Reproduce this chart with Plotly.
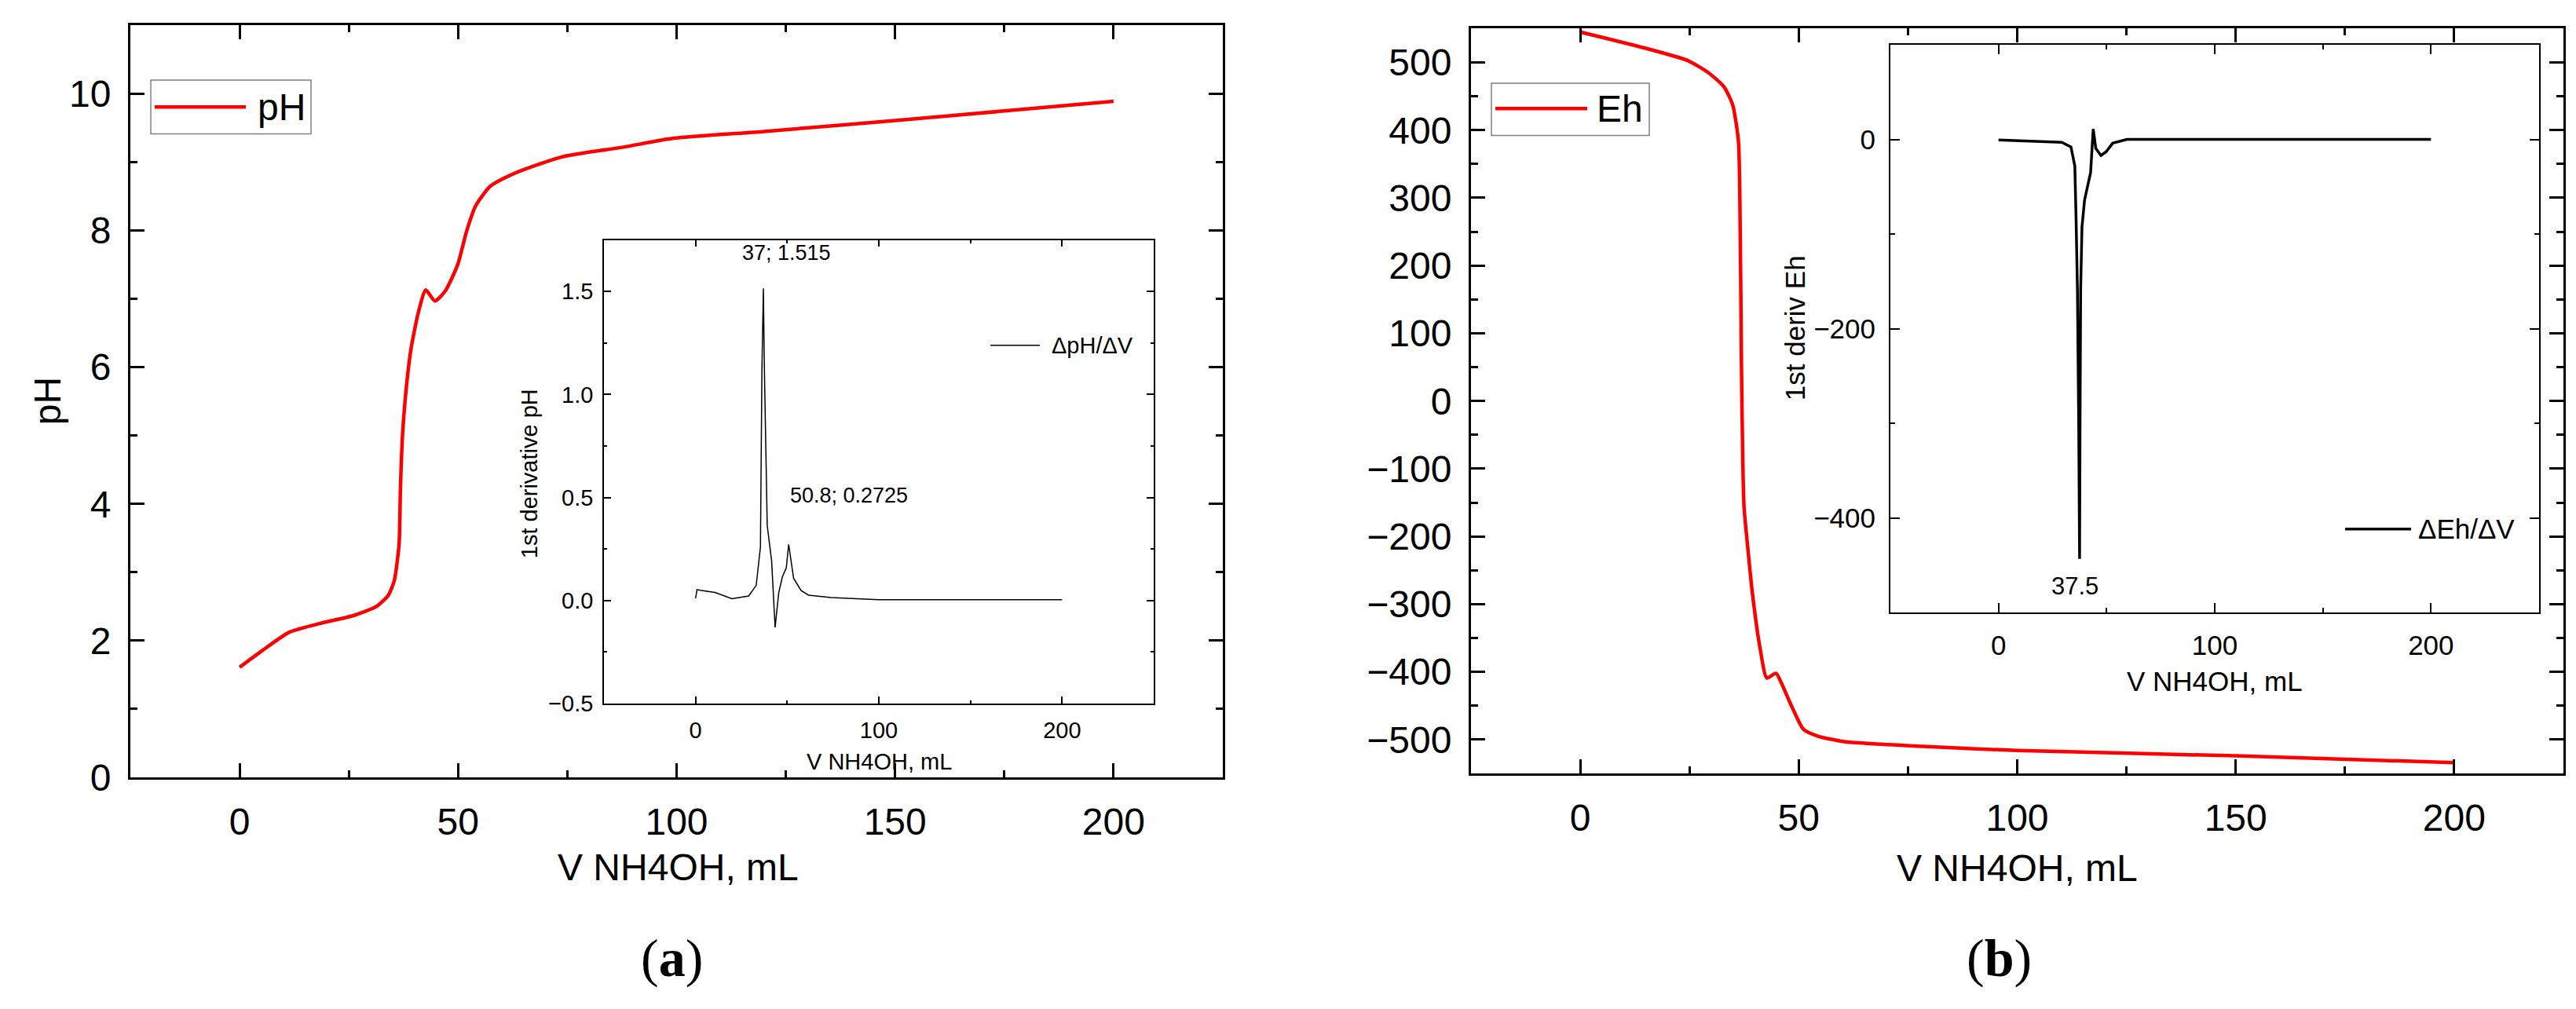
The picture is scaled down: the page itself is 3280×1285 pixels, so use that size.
import plotly.graph_objects as go

# (a) pH titration curve
ph_volume = [0, 5.1, 11.3, 18.9, 25.7, 31.3, 34.0, 35.4, 36.5, 36.8, 37.3, 38.1, 39.2, 40.9,
             42.6, 44.7, 47.1, 49.9, 51.9, 54.0, 57.4, 63.0, 73.9, 87.8, 99.3, 120, 150, 175, 200]
ph_values = [1.61, 1.85, 2.12, 2.26, 2.36, 2.50, 2.66, 2.88, 3.42, 4.22, 5.03, 5.67, 6.26, 6.80,
             7.13, 6.97, 7.12, 7.50, 7.98, 8.36, 8.65, 8.84, 9.08, 9.22, 9.35, 9.45, 9.61, 9.75, 9.89]

# inset of (a): first derivative of pH
dph_volume = [0, 0.8, 2.5, 10.6, 19.8, 29.0, 33.1, 35.4, 36.2, 37.0, 37.5, 39.1, 41.5, 43.4,
              45.4, 47.4, 49.5, 50.8, 53.5, 57.6, 61.7, 74.0, 100, 200]
dph_values = [0.01, 0.053, 0.05, 0.039, 0.009, 0.022, 0.074, 0.26, 1.115, 1.515, 1.15, 0.364,
              0.193, -0.13, 0.039, 0.116, 0.158, 0.2725, 0.108, 0.048, 0.026, 0.014, 0.004, 0.004]

# (b) Eh titration curve
eh_volume = [0, 15.5, 24.5, 29.3, 32.9, 34.9, 36.2, 36.6, 36.9, 37.2, 37.5, 38.3, 39.4, 41.2,
             42.7, 44.8, 46.0, 48.4, 51.1, 54.4, 60.4, 78.4, 100, 150, 200]
eh_values = [545, 520, 503, 485, 464, 437, 384, 259, 50, -89, -158, -214, -284, -367,
             -409, -402, -416, -451, -485, -495, -503, -510, -516, -524, -534]

# inset of (b): first derivative of Eh
deh_volume = [0, 29.3, 33.5, 35.3, 35.9, 36.5, 37.1, 37.5, 37.7, 38.0, 38.6, 39.8, 42.6, 43.8,
              45.0, 47.4, 49.8, 52.8, 59.4, 100, 200]
deh_values = [-0.6, -3, -8, -28, -86, -158, -303, -443, -303, -158, -93, -64, -35, 11,
              -9.6, -17, -13, -4, 0, 0, 0]

SANS = "Liberation Sans, Arial, sans-serif"
SERIF = "Liberation Serif, Times New Roman, serif"
W, H = 3280, 1285


def px(p):
    return p / W


def py(p):
    return 1 - p / H


def axis(domain, rng, dtick, minor_dtick, anchor, size, lw, tlen, standoff, fmt=None):
    return dict(
        domain=domain, range=rng, dtick=dtick, tick0=0, anchor=anchor,
        showgrid=False, zeroline=False, showline=True, linecolor="black", linewidth=lw,
        mirror="allticks", ticks="inside", ticklen=tlen, tickwidth=lw, tickcolor="black",
        tickfont=dict(family=SANS, size=size, color="black"), ticklabelstandoff=standoff,
        tickformat=fmt,
        minor=dict(dtick=minor_dtick, tick0=0, ticks="inside", ticklen=tlen / 2,
                   tickwidth=lw, tickcolor="black", showgrid=False),
        fixedrange=True,
    )


fig = go.Figure()
fig.add_trace(go.Scatter(x=ph_volume, y=ph_values, mode="lines", name="pH",
                         line=dict(color="#ff0000", width=4.5, shape="spline", smoothing=0.6),
                         xaxis="x", yaxis="y", showlegend=False))
fig.add_trace(go.Scatter(x=eh_volume, y=eh_values, mode="lines", name="Eh",
                         line=dict(color="#ff0000", width=4.5, shape="spline", smoothing=0.6),
                         xaxis="x2", yaxis="y2", showlegend=False))
fig.add_trace(go.Scatter(x=dph_volume, y=dph_values, mode="lines", name="ΔpH/ΔV",
                         line=dict(color="black", width=1.5),
                         xaxis="x3", yaxis="y3", showlegend=False))
fig.add_trace(go.Scatter(x=deh_volume, y=deh_values, mode="lines", name="ΔEh/ΔV",
                         line=dict(color="black", width=3.5),
                         xaxis="x4", yaxis="y4", showlegend=False))

fig.update_layout(
    width=W, height=H, margin=dict(l=0, r=0, t=0, b=0),
    paper_bgcolor="white", plot_bgcolor="white",
    font=dict(family=SANS, color="black"),
    xaxis=axis([px(158), px(1549)], [-25, 225], 50, 25, "y", 48, 3, 18, 12),
    yaxis=axis([py(1003), py(25)], [0, 11], 2, 1, "x", 48, 3, 18, 12),
    xaxis2=axis([px(1865), px(3256)], [-25, 225], 50, 25, "y2", 48, 3, 18, 12),
    yaxis2=axis([py(998), py(29)], [-550, 550], 100, 50, "x2", 48, 3, 18, 12),
    xaxis3=axis([px(761), px(1461)], [-50, 250], 100, 50, "y3", 29, 1.5, 9, 8),
    yaxis3=axis([py(907), py(304)], [-0.5, 1.75], 0.5, 0.25, "x3", 29, 1.5, 9, 6, ".1f"),
    xaxis4=axis([px(2399), px(3225)], [-50, 250], 100, 50, "y4", 35, 2, 12, 10),
    yaxis4=axis([py(789), py(50)], [-500, 100], 200, 100, "x4", 35, 2, 12, 10),
)

# axis titles, panel labels and point labels
notes = [
    ("V NH4OH, mL", 855, 1120, 48, 0, SANS),
    ("pH", 52, 514, 48, -90, SANS),
    ("V NH4OH, mL", 2560, 1121, 48, 0, SANS),
    ("V NH4OH, mL", 1111, 983, 29, 0, SANS),
    ("1st derivative pH", 666, 608, 29, -90, SANS),
    ("V NH4OH, mL", 2812, 878, 35, 0, SANS),
    ("1st deriv Eh", 2277, 419, 35, -90, SANS),
    ("(<b>a</b>)", 847, 1238, 68, 0, SERIF),
    ("(<b>b</b>)", 2537, 1238, 68, 0, SERIF),
]
for text, x, y, size, angle, fam in notes:
    fig.add_annotation(text=text, x=px(x), y=py(y), xref="paper", yref="paper",
                       xanchor="center", yanchor="middle", showarrow=False, textangle=angle,
                       font=dict(family=fam, size=size, color="black"))

fig.add_annotation(text="37; 1.515", x=49.5, y=1.687, xref="x3", yref="y3", showarrow=False,
                   font=dict(family=SANS, size=27, color="black"))
fig.add_annotation(text="50.8; 0.2725", x=83.9, y=0.509, xref="x3", yref="y3", showarrow=False,
                   font=dict(family=SANS, size=27, color="black"))
fig.add_annotation(text="37.5", x=35.2, y=-472, xref="x4", yref="y4", showarrow=False,
                   font=dict(family=SANS, size=31, color="black"))

# legend boxes drawn by hand so the line sample is as long as in the original
legends = [
    # box x0, x1, y0, y1, line x0, x1, y, text x, label, colour, line width, font size
    (184, 388, 96, 166, 189, 305, 131, 318, "pH", "#ff0000", 4.5, 48),
    (1891, 2092, 100, 168, 1896, 2013, 133, 2023, "Eh", "#ff0000", 4.5, 48),
    (1252, 1436, 422, 460, 1253, 1316, 441, 1329, "ΔpH/ΔV", "black", 1.5, 29),
    (2978, 3196, 656, 701, 2978, 3062, 680, 3069, "ΔEh/ΔV", "black", 3.5, 35),
]
for bx0, bx1, by0, by1, lx0, lx1, ly, tx, label, col, lw, size in legends:
    fig.add_shape(type="rect", xref="paper", yref="paper", x0=px(bx0), x1=px(bx1),
                  y0=py(by1), y1=py(by0), line=dict(color="#808080", width=1.5),
                  fillcolor="white", layer="below")
    fig.add_shape(type="line", xref="paper", yref="paper", x0=px(lx0), x1=px(lx1),
                  y0=py(ly), y1=py(ly), line=dict(color=col, width=lw))
    fig.add_annotation(text=label, x=px(tx), y=py(ly), xref="paper", yref="paper",
                       xanchor="left", yanchor="middle", showarrow=False,
                       font=dict(family=SANS, size=size, color="black"))

fig.write_html("out.html")
